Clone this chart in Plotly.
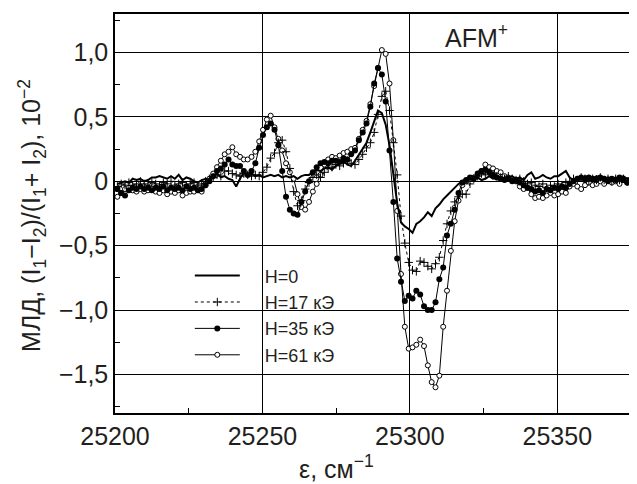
import plotly.graph_objects as go

# wavenumber, cm^-1 (shared by all four scans)
wavenumber = [
    25200.8, 25202.1, 25203.4, 25204.7, 25206.0, 25207.3, 25208.6, 25209.9, 25211.2, 25212.5,
    25213.8, 25215.1, 25216.4, 25217.7, 25219.0, 25220.3, 25221.6, 25222.9, 25224.2, 25225.5,
    25226.8, 25228.1, 25229.4, 25230.7, 25232.0, 25233.3, 25234.6, 25235.9, 25237.2, 25238.5,
    25239.8, 25241.1, 25242.4, 25243.7, 25245.0, 25246.3, 25247.6, 25248.9, 25250.2, 25251.5,
    25252.8, 25254.1, 25255.4, 25256.7, 25258.0, 25259.3, 25260.6, 25261.9, 25263.2, 25264.5,
    25265.8, 25267.1, 25268.4, 25269.7, 25271.0, 25272.3, 25273.6, 25274.9, 25276.2, 25277.5,
    25278.8, 25280.1, 25281.4, 25282.7, 25284.0, 25285.3, 25286.6, 25287.9, 25289.2, 25290.5,
    25291.8, 25293.1, 25294.4, 25295.7, 25297.0, 25298.3, 25299.6, 25300.9, 25302.2, 25303.5,
    25304.8, 25306.1, 25307.4, 25308.7, 25310.0, 25311.3, 25312.6, 25313.9, 25315.2, 25316.5,
    25317.8, 25319.1, 25320.4, 25321.7, 25323.0, 25324.3, 25325.6, 25326.9, 25328.2, 25329.5,
    25330.8, 25332.1, 25333.4, 25334.7, 25336.0, 25337.3, 25338.6, 25339.9, 25341.2, 25342.5,
    25343.8, 25345.1, 25346.4, 25347.7, 25349.0, 25350.3, 25351.6, 25352.9, 25354.2, 25355.5,
    25356.8, 25358.1, 25359.4, 25360.7, 25362.0, 25363.3, 25364.6, 25365.9, 25367.2, 25368.5,
    25369.8, 25371.1, 25372.4, 25373.7, 25375.0,
]

h0 = [
    -0.02, -0.01, 0.00, -0.01, 0.02, 0.01, 0.02, 0.00, 0.01, 0.03,
    0.03, 0.04, 0.03, 0.02, 0.04, 0.02, 0.05, 0.01, 0.03, 0.02,
    0.00, -0.01, 0.01, 0.02, 0.00, 0.04, 0.06, 0.03, 0.04, 0.02,
    0.01, -0.04, 0.02, 0.07, 0.05, 0.06, 0.04, 0.05, 0.03, 0.04,
    0.05, 0.04, 0.05, 0.03, 0.04, 0.03, 0.04, 0.02, 0.04, 0.05,
    0.05, 0.07, 0.09, 0.08, 0.10, 0.11, 0.09, 0.12, 0.14, 0.16,
    0.13, 0.12, 0.16, 0.21, 0.26, 0.30, 0.38, 0.47, 0.55, 0.53,
    0.44, 0.28, 0.05, -0.17, -0.32, -0.35, -0.37, -0.40, -0.33, -0.31,
    -0.28, -0.24, -0.27, -0.21, -0.18, -0.14, -0.11, -0.08, -0.05, -0.02,
    0.00, 0.02, 0.03, 0.02, 0.03, 0.01, 0.02, 0.04, 0.02, 0.03,
    0.01, 0.03, 0.02, 0.04, 0.02, 0.03, 0.01, 0.05, 0.07, 0.02,
    0.03, 0.05, 0.03, 0.02, 0.04, 0.04, 0.06, 0.08, 0.03, 0.01,
    0.03, 0.02, 0.04, 0.03, 0.02, 0.04, 0.03, 0.01, 0.03, 0.02,
    0.03, 0.02, 0.04, 0.02, 0.03,
]

h17 = [
    -0.04, -0.02, -0.03, -0.01, -0.03, -0.02, 0.00, -0.02, -0.03, -0.01,
    -0.02, -0.03, -0.01, -0.02, 0.00, -0.03, -0.02, -0.01, -0.03, -0.02,
    -0.01, -0.03, -0.02, 0.00, 0.02, 0.03, 0.05, 0.04, 0.08, 0.08,
    0.06, 0.05, 0.04, 0.06, 0.05, 0.04, 0.05, 0.04, 0.07, 0.11,
    0.18, 0.22, 0.30, 0.32, 0.23, 0.10, -0.08, -0.19, -0.15, -0.06,
    -0.01, 0.03, 0.05, 0.03, 0.07, 0.10, 0.11, 0.13, 0.12, 0.14,
    0.16, 0.14, 0.13, 0.17, 0.21, 0.26, 0.30, 0.38, 0.52, 0.66,
    0.70, 0.55, 0.30, 0.05, -0.27, -0.48, -0.63, -0.69, -0.70, -0.62,
    -0.63, -0.66, -0.68, -0.64, -0.59, -0.46, -0.33, -0.23, -0.16, -0.12,
    -0.10, -0.10, -0.02, 0.02, 0.04, 0.06, 0.05, 0.07, 0.05, 0.04,
    0.03, 0.02, 0.04, 0.02, 0.01, 0.02, 0.00, -0.02, -0.01, -0.03,
    -0.04, -0.02, -0.05, -0.03, -0.04, -0.02, -0.03, -0.01, 0.00, 0.02,
    0.01, 0.03, 0.02, 0.00, 0.02, 0.01, 0.03, 0.01, 0.02, 0.00,
    0.02, 0.01, 0.02, 0.00, 0.01,
]

h35 = [
    -0.06, -0.09, -0.11, -0.07, -0.05, -0.06, -0.04, -0.06, -0.05, -0.07,
    -0.05, -0.06, -0.04, -0.07, -0.05, -0.06, -0.05, -0.07, -0.04, -0.06,
    -0.05, -0.07, -0.06, -0.03, 0.00, 0.04, 0.08, 0.10, 0.13, 0.17,
    0.13, 0.12, 0.12, 0.08, 0.05, 0.08, 0.14, 0.26, 0.36, 0.42,
    0.45, 0.40, 0.28, 0.08, -0.12, -0.22, -0.25, -0.26, -0.16, -0.08,
    0.00, 0.07, 0.11, 0.14, 0.15, 0.14, 0.16, 0.16, 0.15, 0.18,
    0.17, 0.21, 0.24, 0.32, 0.38, 0.45, 0.58, 0.76, 0.88, 0.83,
    0.62, 0.24, -0.16, -0.60, -0.78, -0.93, -0.89, -0.91, -0.85, -0.88,
    -0.97, -1.00, -1.00, -0.94, -0.76, -0.67, -0.42, -0.33, -0.22, -0.09,
    -0.01, 0.01, 0.03, 0.02, 0.06, 0.08, 0.09, 0.07, 0.05, 0.03,
    0.02, 0.01, 0.02, 0.00, 0.01, -0.01, -0.03, -0.05, -0.06, -0.08,
    -0.07, -0.09, -0.06, -0.07, -0.05, -0.06, -0.04, -0.05, -0.02, 0.00,
    0.02, 0.03, 0.01, 0.03, 0.02, 0.01, 0.03, 0.02, 0.00, 0.02,
    0.01, 0.03, 0.01, -0.01, 0.01,
]

h61 = [
    -0.12, -0.09, -0.06, -0.05, -0.07, -0.08, -0.06, -0.08, -0.07, -0.06,
    -0.08, -0.09, -0.07, -0.10, -0.08, -0.09, -0.07, -0.11, -0.09, -0.08,
    -0.08, -0.06, -0.08, -0.03, 0.02, 0.06, 0.11, 0.16, 0.21, 0.23,
    0.265, 0.21, 0.19, 0.17, 0.17, 0.19, 0.23, 0.31, 0.40, 0.48,
    0.51, 0.42, 0.33, 0.24, 0.14, 0.07, 0.02, -0.10, -0.20, -0.22,
    -0.16, -0.08, -0.02, 0.05, 0.13, 0.17, 0.19, 0.18, 0.20, 0.22,
    0.23, 0.25, 0.26, 0.33, 0.40, 0.47, 0.60, 0.74, 0.88, 1.02,
    0.99, 0.76, 0.32, -0.23, -0.72, -1.13, -1.30, -1.29, -1.27, -1.23,
    -1.28, -1.43, -1.56, -1.60, -1.51, -1.13, -0.85, -0.54, -0.31, -0.15,
    -0.03, 0.00, 0.02, 0.03, 0.05, 0.08, 0.13, 0.11, 0.10, 0.08,
    0.07, 0.04, 0.03, 0.02, 0.00, -0.04, -0.06, -0.05, -0.10, -0.13,
    -0.12, -0.13, -0.11, -0.09, -0.11, -0.10, -0.08, -0.09, -0.04, -0.02,
    -0.04, -0.06, -0.03, -0.01, -0.03, -0.02, 0.00, -0.02, 0.01, -0.01,
    0.00, -0.02, 0.01, -0.01, 0.00,
]

y_ticks = [-1.5, -1.0, -0.5, 0, 0.5, 1.0]
y_tick_text = ["\u22121,5", "\u22121,0", "\u22120,5", "0", "0,5", "1,0"]
x_ticks = [25200, 25250, 25300, 25350]
x_tick_text = ["25200", "25250", "25300", "25350"]

FONT = "Liberation Sans, Arial, sans-serif"
PAD = "\u00a0" * 4  # pushes legend text right of the line samples

fig = go.Figure()

fig.add_trace(go.Scatter(
    x=wavenumber, y=h61, name=PAD + "H=61 \u043a\u042d", mode="lines+markers", legendrank=4,
    line=dict(color="black", width=1),
    marker=dict(symbol="circle", size=5, color="white", line=dict(color="black", width=1)),
))
fig.add_trace(go.Scatter(
    x=wavenumber, y=h35, name=PAD + "H=35 \u043a\u042d", mode="lines+markers", legendrank=3,
    line=dict(color="black", width=1),
    marker=dict(symbol="circle", size=6, color="black"),
))
fig.add_trace(go.Scatter(
    x=wavenumber, y=h17, name=PAD + "H=17 \u043a\u042d", mode="lines+markers", legendrank=2,
    line=dict(color="black", width=1, dash="dot"),
    marker=dict(symbol="cross-thin", size=6, color="black", line=dict(color="black", width=1)),
))
fig.add_trace(go.Scatter(
    x=wavenumber, y=h0, name=PAD + "H=0", mode="lines", legendrank=1,
    line=dict(color="black", width=2),
))

# the page body adds an 8px offset, so the figure is 8px smaller than the window
fig.update_layout(
    width=629, height=476,
    margin=dict(l=107, r=6, t=4, b=71),
    paper_bgcolor="white", plot_bgcolor="white",
    font=dict(family=FONT, color="#231f20"),
    showlegend=True,
    legend=dict(
        x=0.145, y=0.39, xanchor="left", yanchor="top",
        bgcolor="rgba(0,0,0,0)", font=dict(size=18, family=FONT),
        itemwidth=45, tracegroupgap=0,
    ),
    xaxis=dict(
        range=[25200, 25375], tickvals=x_ticks, ticktext=x_tick_text,
        showgrid=True, gridcolor="black", gridwidth=1,
        ticks="inside", ticklen=5, tickcolor="black",
        minor=dict(dtick=25, ticks="inside", ticklen=5, tickcolor="black", showgrid=False),
        showline=True, linecolor="black", linewidth=1.5, mirror=True,
        zeroline=False, tickfont=dict(size=25, family=FONT),
    ),
    yaxis=dict(
        range=[-1.8, 1.3], tickvals=y_ticks, ticktext=y_tick_text,
        showgrid=True, gridcolor="black", gridwidth=1,
        ticks="inside", ticklen=5, tickcolor="black",
        minor=dict(dtick=0.25, ticks="inside", ticklen=5, tickcolor="black", showgrid=False),
        showline=True, linecolor="black", linewidth=1.5, mirror=True,
        zeroline=False, tickfont=dict(size=25, family=FONT),
    ),
    annotations=[
        dict(text="AFM<sup>+</sup>", x=0.70, y=0.945, xref="paper", yref="paper",
             xanchor="center", yanchor="middle",
             showarrow=False, font=dict(size=25, family=FONT)),
        dict(text="\u03b5, \u0441\u043c<sup>\u22121</sup>", x=0.43, y=-0.136,
             xref="paper", yref="paper", xanchor="center", yanchor="middle", showarrow=False,
             font=dict(size=25, family=FONT)),
        dict(text="\u041c\u041b\u0414, (I<sub>1</sub>\u2212I<sub>2</sub>)/(I<sub>1</sub>+ I<sub>2</sub>), 10<sup>\u22122</sup>",
             x=-0.16, y=0.495, xref="paper", yref="paper", textangle=-90,
             xanchor="center", yanchor="middle", showarrow=False,
             font=dict(size=25, family=FONT)),
    ],
)

fig.write_html("out.html")
